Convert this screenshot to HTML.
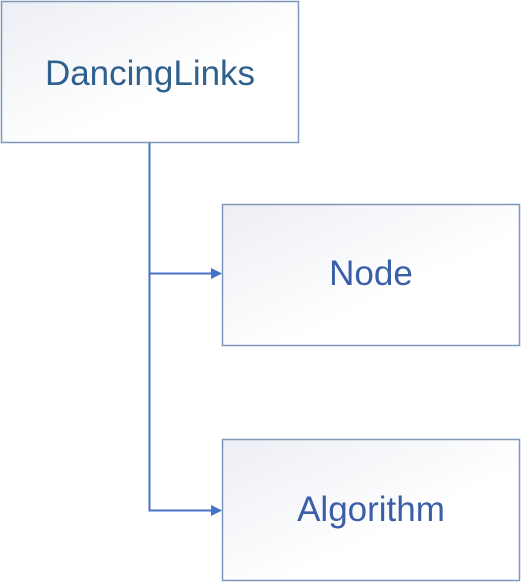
<!DOCTYPE html>
<html><head><meta charset="utf-8"><style>
html,body{margin:0;padding:0;background:#fff;width:521px;height:582px;overflow:hidden}
</style></head><body>
<svg width="521" height="582" xmlns="http://www.w3.org/2000/svg">
<defs>
<linearGradient id="g" x1="0" y1="0" x2="1" y2="1">
<stop offset="0" stop-color="#eceef4"/><stop offset="0.6" stop-color="#fff"/><stop offset="1" stop-color="#fff"/>
</linearGradient>
</defs>
<rect x="1.5" y="1.5" width="297" height="141" fill="url(#g)" stroke="#7f97b8" stroke-width="1.5"/>
<rect x="222.5" y="204.5" width="297" height="141" fill="url(#g)" stroke="#7f97b8" stroke-width="1.5"/>
<rect x="222.5" y="439.5" width="297" height="141" fill="url(#g)" stroke="#7f97b8" stroke-width="1.5"/>
<g stroke="#4472c4" stroke-width="2" fill="none">
<path d="M149.5 143 V510.5 H214"/>
<path d="M149.5 273.5 H214"/>
</g>
<g fill="#4472c4">
<polygon points="222,273.5 211,268 211,279"/>
<polygon points="222,510.5 211,505 211,516"/>
</g>
<g font-family="Liberation Sans, sans-serif" font-size="35" text-anchor="middle">
<text x="150" y="85" fill="#30618e">DancingLinks</text>
<text x="371" y="285" fill="#3a5ea8">Node</text>
<text x="371" y="521" fill="#3a5ea8">Algorithm</text>
</g>
</svg>
</body></html>
